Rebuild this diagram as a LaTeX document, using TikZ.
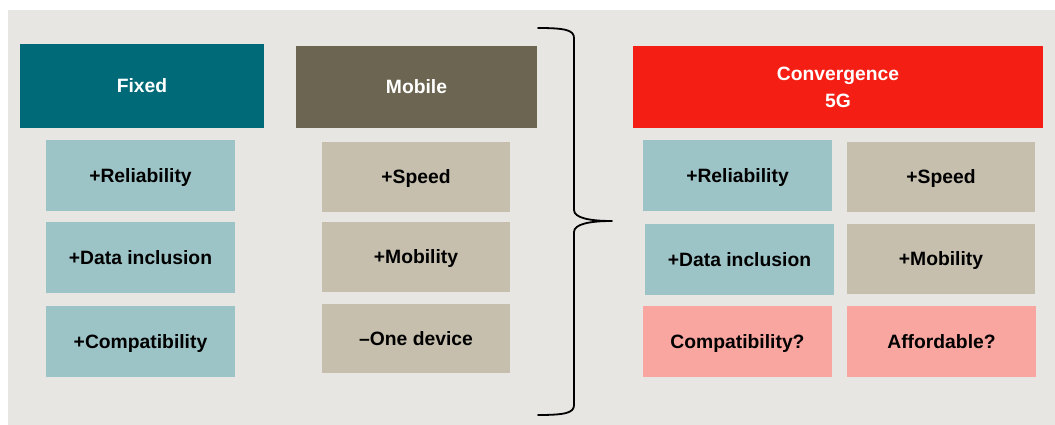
\documentclass[tikz,border=0pt]{standalone}
\usepackage{fontspec}
\setmainfont{Liberation Sans}
\definecolor{bgc}{HTML}{E8E6E2}
\definecolor{fixc}{HTML}{006A78}
\definecolor{mobc}{HTML}{6C6551}
\definecolor{conc}{HTML}{F51E14}
\definecolor{tealc}{HTML}{9CC3C6}
\definecolor{tanc}{HTML}{C6BFAD}
\definecolor{pinkc}{HTML}{F9A6A0}
\begin{document}
\begin{tikzpicture}[x=1pt,y=-1pt,
  boxbase/.style={inner sep=0pt, outer sep=0pt, font=\fontsize{19.3}{27}\selectfont\bfseries, align=center, text height=13.8pt, text depth=0pt},
  head/.style={boxbase, text=white, minimum height=82pt},
  sub/.style={boxbase, text=black, minimum height=71pt}]
\useasboundingbox (0,0) rectangle (1055,425);
\fill[bgc] (8,10) rectangle (1055,425);
% headers
\node[head, fill=fixc, minimum width=244pt, minimum height=84pt] (fixed) at (142,86) {Fixed};
\node[head, fill=mobc, minimum width=241pt] (mobile) at (416.5,87) {Mobile};
\node[head, fill=conc, minimum width=410pt, text height={}, text depth={}] (conv) at (838,87) {Convergence\\5G};
% fixed column
\node[sub, fill=tealc, minimum width=189pt] (f1) at (140.5,175.5) {+Reliability};
\node[sub, fill=tealc, minimum width=189pt] (f2) at (140.5,257.5) {+Data inclusion};
\node[sub, fill=tealc, minimum width=189pt] (f3) at (140.5,341.5) {+Compatibility};
% mobile column
\node[sub, fill=tanc, minimum width=188pt, minimum height=70pt] (m1) at (416,177) {+Speed};
\node[sub, fill=tanc, minimum width=188pt, minimum height=70pt] (m2) at (416,257) {+Mobility};
\node[sub, fill=tanc, minimum width=188pt, minimum height=69pt] (m3) at (416,338.5) {–One device};
% convergence columns
\node[sub, fill=tealc, minimum width=189pt] (c1) at (737.5,175.5) {+Reliability};
\node[sub, fill=tealc, minimum width=189pt] (c2) at (739.5,259.5) {+Data inclusion};
\node[sub, fill=pinkc, minimum width=189pt] (c3) at (737.5,341.5) {Compatibility?};
\node[sub, fill=tanc, minimum width=188pt, minimum height=70pt] (d1) at (941,177) {+Speed};
\node[sub, fill=tanc, minimum width=188pt, minimum height=70pt] (d2) at (941,259) {+Mobility};
\node[sub, fill=pinkc, minimum width=189pt] (d3) at (941.5,341.5) {Affordable?};
% brace
\draw[line width=1.8pt, line cap=round, line join=round]
  (538,28) .. controls (565,28) and (574,30) .. (574,38) -- (574,210)
  .. controls (574,218) and (590,221) .. (612,221)
  .. controls (590,221) and (574,224) .. (574,232) -- (574,405)
  .. controls (574,413) and (565,415) .. (538,415);
\end{tikzpicture}
\end{document}
